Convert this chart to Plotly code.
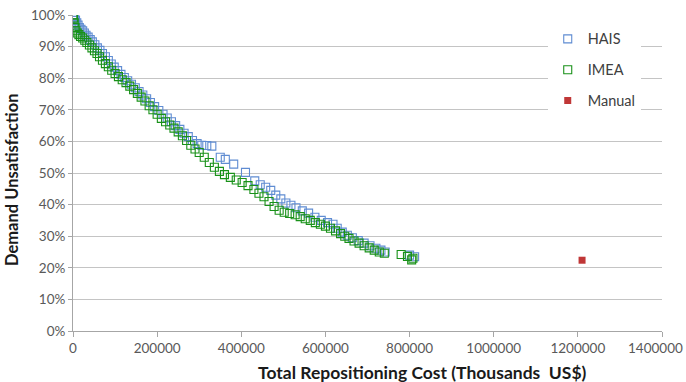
import plotly.graph_objects as go

hais_x = [0, 2000, 4000, 6000, 9000, 12000, 15000, 19000, 23000, 27000, 31000, 36000, 41000, 46000,
          52000, 58000, 64000, 70000, 77000, 84000, 91000, 98000, 106000, 114000, 122000, 130000,
          139000, 148000, 157000, 166000, 175000, 184000, 194000, 204000, 214000, 224000, 234000,
          244000, 254000, 264000, 274000, 284000, 295000, 306000, 318000, 330000, 350000, 362000,
          382000, 410000, 432000, 445000, 458000, 470000, 482000, 494000, 506000, 518000, 530000,
          545000, 560000, 575000, 590000, 605000, 618000, 628000, 640000, 652000, 664000, 678000,
          692000, 706000, 720000, 732000, 742000, 800000, 812000]
hais_y = [100, 99.5, 99, 98.3, 97.5, 96.8, 96, 95.5, 95, 94.3, 93.6, 93, 92.2, 91.5,
          90.6, 89.6, 88.8, 87.8, 86.8, 85.6, 84.5, 83.5, 82.4, 81.2, 80.2, 79.2,
          78.1, 77, 75.8, 74.7, 73.5, 72.3, 71, 69.8, 68.6, 67.4, 66.2,
          65, 63.8, 62.6, 61.5, 60.3, 59.3, 58.8, 58.7, 58.5, 55, 54.3,
          52.8, 50.2, 47.5, 46.3, 45.5, 44.5, 43, 41.8, 40.5, 39.8, 39,
          38, 37.3, 36, 35, 34.3, 33.8, 32.5, 31.3, 30.3, 29.5, 28.6,
          27.8, 27, 26.2, 25.6, 25, 24, 23.5]

imea_x = [0, 1000, 3000, 5000, 7000, 10000, 14000, 18000, 23000, 28000, 33000, 39000, 45000, 51000,
          57000, 63000, 70000, 77000, 84000, 92000, 100000, 108000, 117000, 126000, 135000, 144000,
          153000, 162000, 171000, 181000, 190000, 200000, 210000, 220000, 230000, 240000, 250000,
          260000, 270000, 280000, 290000, 300000, 312000, 324000, 336000, 348000, 360000, 374000,
          388000, 402000, 416000, 430000, 442000, 454000, 466000, 478000, 490000, 502000, 515000,
          528000, 540000, 552000, 564000, 576000, 588000, 600000, 612000, 624000, 636000, 646000,
          656000, 668000, 680000, 692000, 704000, 716000, 728000, 740000, 780000, 795000, 805000, 808000]
imea_y = [100, 99, 97.5, 96, 95, 94.3, 93.8, 93.2, 92.7, 92, 91.3, 90.5, 89.6, 88.7,
          87.8, 86.8, 85.7, 84.6, 83.6, 82.5, 81.5, 80.5, 79.5, 78.6, 77.5, 76.4,
          75.2, 74, 72.8, 71.3, 70, 68.6, 67.3, 66.2, 65.2, 64.2, 63,
          61.8, 60.3, 58.8, 57.6, 56.5, 55, 53.3, 51.8, 50.5, 49.5, 48.6,
          47.8, 47, 46, 44.8, 43.6, 42.5, 41, 39.4, 38.2, 37.6, 37.2,
          36.8, 36.2, 35.5, 35, 34.3, 33.8, 33.2, 32.5, 31.7, 30.8, 30,
          29.3, 28.5, 27.8, 27, 26.3, 25.6, 25, 24.6, 24.2, 23.6, 22.5, 23]

manual_x = [1210000]
manual_y = [22.4]

x_ticks = [0, 200000, 400000, 600000, 800000, 1000000, 1200000, 1400000]
y_ticks = [0, 10, 20, 30, 40, 50, 60, 70, 80, 90, 100]

FONT = "Lato, 'Liberation Sans', sans-serif"
BLUE = "rgb(95,140,210)"
GREEN = "rgb(25,145,25)"
RED = "rgb(192,55,55)"

fig = go.Figure()
fig.add_trace(go.Scatter(x=hais_x, y=[v / 100 for v in hais_y], mode="markers", name="HAIS",
                         legendgroup="a",
                         marker=dict(symbol="square-open", size=8, color=BLUE, line=dict(width=1.1))))
fig.add_trace(go.Scatter(x=imea_x, y=[v / 100 for v in imea_y], mode="markers", name="IMEA",
                         legendgroup="b",
                         marker=dict(symbol="square-open", size=8, color=GREEN, line=dict(width=1.1))))
fig.add_trace(go.Scatter(x=manual_x, y=[v / 100 for v in manual_y], mode="markers", name="Manual",
                         legendgroup="c",
                         marker=dict(symbol="square", size=7, color=RED)))

# the last x tick label sits at the right edge; draw it as text kept just inside the page
last_tick = x_ticks[-1]

fig.update_layout(
    width=686, height=382,
    margin=dict(l=73, r=24, t=15, b=51),
    paper_bgcolor="white", plot_bgcolor="white",
    font=dict(family=FONT, size=13.5, color="#595959"),
    showlegend=True,
    legend=dict(x=0.806, xanchor="left", y=0.975, yanchor="top", bgcolor="white",
                tracegroupgap=9, font=dict(size=14.5, color="#404040"),
                itemwidth=30),
    xaxis=dict(range=[0, 1400000], tickvals=x_ticks,
               ticktext=[str(v) for v in x_ticks[:-1]] + [""],
               showgrid=False, zeroline=False, showline=True, linecolor="#a6a6a6", linewidth=1,
               ticks="outside", ticklen=5, tickcolor="#a6a6a6", tickfont=dict(size=13.5),
               automargin=False),
    yaxis=dict(range=[0, 1.0], tickvals=[v / 100 for v in y_ticks],
               ticktext=[f"{v}%" for v in y_ticks],
               showgrid=True, gridcolor="#c4c4c4", gridwidth=1, zeroline=False,
               showline=True, linecolor="#a6a6a6", linewidth=1,
               ticks="outside", ticklen=4, tickcolor="#a6a6a6", tickfont=dict(size=13.5),
               automargin=False),
    annotations=[
        dict(text=str(last_tick), xref="paper", yref="paper", x=1, xshift=23, y=0, yshift=-17,
             xanchor="right", yanchor="middle", showarrow=False,
             font=dict(size=13.5, color="#595959", family=FONT)),
        dict(text="<b>Total Repositioning Cost (Thousands  US$)</b>", xref="paper", yref="paper",
             x=0.593, y=0, yshift=-41, xanchor="center", yanchor="middle", showarrow=False,
             font=dict(size=17.5, color="#1a1a1a", family=FONT)),
        dict(text="<b>Demand Unsatisfaction</b>", xref="paper", yref="paper",
             x=0, xshift=-61, y=0.478, textangle=-90, xanchor="center", yanchor="middle",
             showarrow=False, font=dict(size=16.5, color="#1a1a1a", family=FONT)),
    ],
)

fig.write_html("out.html", config={"displayModeBar": False},
               post_script="document.body.style.margin='0';")
